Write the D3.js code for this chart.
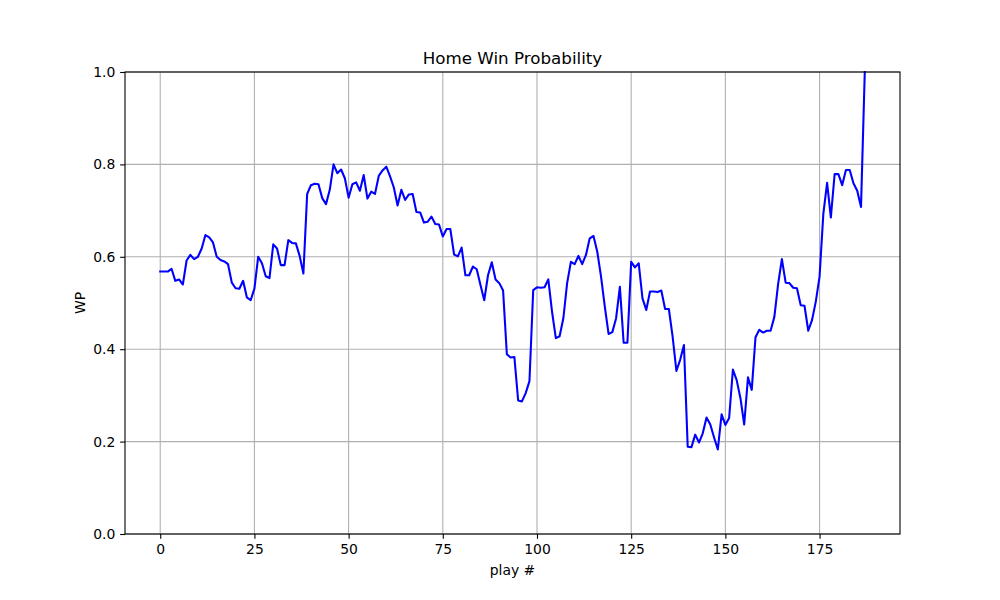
<!DOCTYPE html>
<html lang="en">
<head>
    <title>Home Win Probability</title>
    <script src="https://cdnjs.cloudflare.com/ajax/libs/d3/7.8.5/d3.min.js"></script>
    <style>
        body { margin: 0; background: #fff; }
        svg { display: block; }
        text { font-family: "DejaVu Sans", sans-serif; fill: #000; }
        .tick text { font-size: 13.9px; }
        .grid line { stroke: #b0b0b0; stroke-width: 1.1px; }
    </style>
</head>
<body>
    <svg width="1000" height="600"></svg>

    <script>
        // win probability for each play
        const wp = [
            0.568, 0.568, 0.568, 0.574, 0.548, 0.551, 0.540, 0.592, 0.604, 0.595,
            0.600, 0.618, 0.647, 0.642, 0.631, 0.600, 0.593, 0.590, 0.584, 0.544,
            0.532, 0.531, 0.548, 0.512, 0.506, 0.531, 0.600, 0.586, 0.558, 0.554,
            0.627, 0.618, 0.582, 0.582, 0.636, 0.630, 0.629, 0.602, 0.564, 0.736,
            0.755, 0.758, 0.757, 0.727, 0.714, 0.745, 0.800, 0.781, 0.789, 0.770,
            0.728, 0.757, 0.761, 0.743, 0.777, 0.726, 0.741, 0.736, 0.775, 0.787,
            0.795, 0.774, 0.750, 0.711, 0.745, 0.723, 0.735, 0.736, 0.697, 0.696,
            0.674, 0.676, 0.687, 0.671, 0.670, 0.644, 0.660, 0.660, 0.605, 0.601,
            0.620, 0.560, 0.560, 0.579, 0.573, 0.539, 0.506, 0.560, 0.588, 0.551,
            0.543, 0.527, 0.389, 0.382, 0.383, 0.289, 0.287, 0.305, 0.331, 0.528,
            0.534, 0.533, 0.534, 0.551, 0.481, 0.424, 0.428, 0.467, 0.543, 0.589,
            0.584, 0.602, 0.584, 0.604, 0.640, 0.645, 0.611, 0.557, 0.492, 0.433,
            0.437, 0.467, 0.535, 0.414, 0.414, 0.589, 0.577, 0.586, 0.510, 0.485,
            0.525, 0.525, 0.524, 0.527, 0.487, 0.487, 0.427, 0.353, 0.377, 0.409,
            0.189, 0.188, 0.215, 0.198, 0.218, 0.252, 0.237, 0.209, 0.183, 0.259,
            0.236, 0.251, 0.356, 0.333, 0.294, 0.237, 0.339, 0.312, 0.426, 0.442,
            0.436, 0.440, 0.440, 0.470, 0.541, 0.595, 0.544, 0.543, 0.533, 0.532,
            0.495, 0.494, 0.440, 0.463, 0.503, 0.557, 0.693, 0.760, 0.685, 0.779,
            0.779, 0.755, 0.788, 0.788, 0.759, 0.743, 0.708, 1.000
        ];
        const xTicks = [0, 25, 50, 75, 100, 125, 150, 175];
        const yTicks = [0, 0.2, 0.4, 0.6, 0.8, 1.0];

        const svg = d3.select("svg");
        const margin = { left: 125, right: 900, top: 72, bottom: 534 };
        const n = wp.length - 1;
        const pad = n * 0.05;

        const x = d3.scaleLinear().domain([-pad, n + pad]).range([margin.left, margin.right]);
        const y = d3.scaleLinear().domain([0, 1]).range([margin.bottom, margin.top]);

        const tickLen = 4.86;

        // grid
        const grid = svg.append("g").attr("class", "grid");
        grid.selectAll("line.gx")
            .data(xTicks)
            .enter().append("line")
            .attr("x1", d => x(d)).attr("x2", d => x(d))
            .attr("y1", margin.top).attr("y2", margin.bottom);
        grid.selectAll("line.gy")
            .data(yTicks)
            .enter().append("line")
            .attr("x1", margin.left).attr("x2", margin.right)
            .attr("y1", d => y(d)).attr("y2", d => y(d));

        svg.append("clipPath").attr("id", "clip")
            .append("rect")
            .attr("x", margin.left).attr("y", margin.top - 1)
            .attr("width", margin.right - margin.left)
            .attr("height", margin.bottom - margin.top + 2);

        const line = d3.line()
            .x((d, i) => x(i))
            .y(d => y(d));

        svg.append("path")
            .datum(wp)
            .attr("clip-path", "url(#clip)")
            .attr("fill", "none")
            .attr("stroke", "#0000ff")
            .attr("stroke-width", 2.08)
            .attr("stroke-linejoin", "round")
            .attr("stroke-linecap", "square")
            .attr("d", line);

        // axes
        const xAxis = svg.append("g")
            .attr("transform", `translate(0,${margin.bottom})`)
            .call(d3.axisBottom(x).tickValues(xTicks).tickFormat(d3.format("d"))
                .tickSize(tickLen).tickSizeOuter(0).tickPadding(4.86));
        const yAxis = svg.append("g")
            .attr("transform", `translate(${margin.left},0)`)
            .call(d3.axisLeft(y).tickValues(yTicks).tickFormat(d3.format(".1f"))
                .tickSize(tickLen).tickSizeOuter(0).tickPadding(4.86));
        [xAxis, yAxis].forEach(a => {
            a.select(".domain").remove();
            a.selectAll(".tick line").attr("stroke", "#000").attr("stroke-width", 1.1);
            a.selectAll(".tick text").attr("font-family", null).attr("font-size", null);
        });
        xAxis.selectAll(".tick text").attr("dy", "0.76em");

        // spines
        svg.append("rect")
            .attr("x", margin.left).attr("y", margin.top)
            .attr("width", margin.right - margin.left)
            .attr("height", margin.bottom - margin.top)
            .attr("fill", "none")
            .attr("stroke", "#000")
            .attr("stroke-width", 1.1);

        svg.append("text")
            .attr("x", (margin.left + margin.right) / 2)
            .attr("y", 64)
            .attr("text-anchor", "middle")
            .style("font-size", "16.7px")
            .text("Home Win Probability");

        svg.append("text")
            .attr("x", (margin.left + margin.right) / 2)
            .attr("y", 575)
            .attr("text-anchor", "middle")
            .style("font-size", "13.9px")
            .text("play #");

        svg.append("text")
            .attr("transform", `translate(85,${(margin.top + margin.bottom) / 2}) rotate(-90)`)
            .attr("text-anchor", "middle")
            .style("font-size", "13.9px")
            .text("WP");
    </script>
</body>
</html>
